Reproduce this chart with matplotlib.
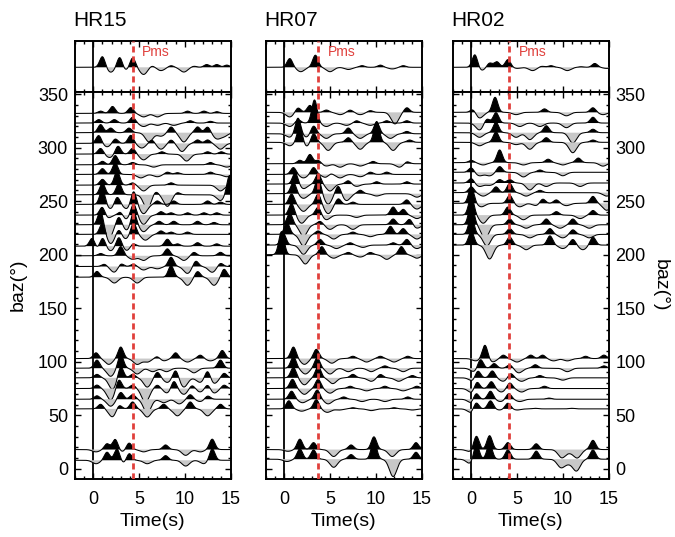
import numpy as np
import matplotlib
matplotlib.use('Agg')
import matplotlib.pyplot as plt
from matplotlib.ticker import MultipleLocator

plt.rcParams['font.family'] = ['Liberation Sans', 'DejaVu Sans']

# receiver functions binned by back azimuth; each trace is a list of
# (time s, amplitude) wavelets, amplitude in plot units
stations = ['HR15', 'HR07', 'HR02']
pms_time = [4.3, 3.7, 4.1]

hr15_stack = [(1.0, 10), (1.9, -4.5), (2.9, 10), (3.5, -3), (4.3, 9), (5.5, -6.5), (6.4, 1.5),
              (7.4, -3), (8.5, 1.5), (9.9, -4.3), (11.0, 1), (12.4, 2.5), (13.5, 2.5), (14.6, 2)]
hr15_baz = [332, 323, 314, 304, 294, 284, 275, 265, 256, 247, 237, 228, 219, 208, 199, 189, 179,
            103, 94, 85, 75, 65, 56, 18, 8]
hr15_rf = [
    [(0.8, 2), (2.1, 6), (4.1, 5), (5.5, -3), (7.0, -3), (10.3, 2), (12.1, 2), (13.5, 1.5)],
    [(0.6, 3), (2.3, 3), (4.3, 5), (5.5, -3), (7.0, -2), (8.8, -2), (10.6, 2), (12.8, 1.5)],
    [(0.8, 7), (1.9, 4), (3.9, 4), (6.1, -8), (7.4, -3), (8.5, 5), (9.9, -8), (11.4, 5), (12.5, 5),
     (13.5, -5), (14.3, -3)],
    [(0.6, 7), (1.5, -3), (2.4, 4), (4.1, 7), (5.3, -4), (6.4, 3), (7.4, -5), (8.5, 3), (9.7, -7),
     (11.4, 3), (12.5, 3), (13.9, -5)],
    [(0.8, 5), (1.8, -3), (2.7, 7), (4.3, 5), (5.5, -5), (7.5, 2), (10.2, -6), (12.5, 2), (14.0, 2)],
    [(1.0, 3), (2.4, 8), (4.3, 2), (6.6, -2), (12.8, 2), (14.6, -2)],
    [(1.0, 5), (2.4, 10), (5.2, -3), (7.0, -2), (8.1, 2), (9.2, 1.5), (12.8, 2), (14.6, -2)],
    [(1.0, 5), (2.6, 12), (4.3, 2), (5.5, -5), (8.5, 2), (13.9, -5)],
    [(1.0, 10), (2.8, 10), (5.9, -12), (6.8, 3), (8.1, -10), (9.2, 2), (13.9, -5), (14.9, 17)],
    [(1.0, 13), (1.9, -4), (2.6, 7), (3.7, -4), (4.4, 12), (5.5, -8), (7.0, 3), (8.8, 3), (12.5, 3),
     (13.9, 2)],
    [(1.0, 8), (1.5, -3), (3.0, 4), (3.5, -4), (4.4, 10), (5.5, -8), (7.4, 3), (8.5, 2), (10.3, 2),
     (12.1, 2), (13.5, 2)],
    [(0.8, 13), (1.7, -12), (2.8, 7), (3.7, -5), (4.4, 12), (5.5, -6), (7.2, 3), (8.8, 3), (11.4, 3),
     (13.2, 2)],
    [(1.0, 10), (1.9, -8), (2.8, 5), (3.5, -4), (4.4, 10), (5.7, -5), (7.4, 3), (8.5, 2), (10.3, 2)],
    [(-0.1, 8), (0.4, -3), (1.0, 8), (1.9, -4), (2.8, 8), (3.7, -4), (4.3, 3), (8.1, 6), (9.2, 2),
     (11.4, 3), (13.5, 2)],
    [(0.8, 2), (3.0, 8), (4.3, -3), (5.5, -4), (8.1, 6), (9.9, -4), (11.0, 3), (13.9, 3)],
    [(1.2, 2), (2.3, -5), (3.0, 3), (4.4, 2), (5.5, -3), (7.0, -2), (8.5, 8), (10.3, -6), (11.2, 5),
     (13.0, -5), (13.9, 3)],
    [(0.4, 5), (2.3, -5), (4.8, -5), (8.5, 10), (10.3, -7), (11.4, 5), (13.2, -7), (14.3, 7)],
    [(0.3, 5), (1.7, -5), (3.0, 10), (4.8, -5), (5.9, -3), (7.0, 2), (7.7, -2), (9.0, 5), (10.3, -3),
     (11.7, 3), (12.8, -2), (14.1, 7)],
    [(0.4, 7), (1.9, -7), (3.0, 12), (4.8, -5), (6.5, -3), (8.0, -3), (11.0, -4), (13.9, 7)],
    [(0.4, 3), (2.1, -10), (3.0, 10), (4.3, 3), (5.9, -8), (7.0, 5), (8.1, -4), (9.0, 7), (9.9, -8),
     (11.7, -4), (12.5, 7), (13.2, -5), (14.3, 4)],
    [(0.4, 3), (1.9, -10), (2.8, 8), (4.3, 3), (5.7, -12), (7.0, 3), (8.1, -4), (8.8, 7), (9.9, -5),
     (10.8, 3), (11.7, -3), (12.5, 4), (13.2, -4), (14.3, 3)],
    [(0.4, 3), (1.9, -6), (3.0, 6), (4.3, 4), (5.9, -12), (7.7, -3), (9.4, -4), (10.6, 4), (11.7, -2),
     (12.5, 3)],
    [(0.8, 4), (2.1, -7), (2.8, 4), (4.3, 6), (5.9, -7), (7.7, 4), (9.2, -6), (10.6, 6), (12.5, -6),
     (13.9, 4)],
    [(0.3, -2), (1.5, 5), (2.4, 9), (3.2, -2), (3.9, 6), (5.5, -2), (7.9, 4), (10.1, -5), (11.7, -2),
     (13.0, 9)],
    [(0.3, -3), (1.5, 7), (2.6, 10), (3.4, -3), (3.9, 7), (5.9, -3), (7.9, 4), (10.1, -5), (12.1, -3),
     (13.0, 10)],
]

hr07_stack = [(0.6, 8), (1.8, -4), (3.4, 11), (5.0, -4), (7.0, -2), (8.5, 1.5), (10.5, 2),
              (11.8, -1.5), (13.0, 1.5)]
hr07_baz = [333, 323, 313, 305, 285, 275, 266, 257, 247, 237, 228, 219, 209, 200,
            103, 94, 85, 75, 65, 56, 18, 9]
hr07_rf = [
    [(0.6, -4), (1.5, 4), (2.8, 6), (4.6, 2), (6.1, -2), (7.2, 2), (8.3, -2), (9.4, 1.5), (12.1, -10),
     (13.4, 4)],
    [(0.6, -3), (1.5, 3), (3.3, 20), (4.6, -3), (6.8, -2), (7.9, 2), (9.4, -2), (11.2, 2), (13.4, 2)],
    [(0.6, -3), (1.5, 14), (2.4, -3), (3.2, 7), (4.6, -4), (7.0, 5), (8.3, -4), (10.1, 10), (11.6, -4),
     (13.4, 2)],
    [(0.6, -3), (1.7, 14), (2.4, -4), (3.2, 8), (4.8, -7), (7.0, 4), (8.3, -6), (10.1, 18), (11.9, -7),
     (13.7, 2)],
    [(1.7, 3), (2.8, 8), (3.7, 3), (4.6, -2), (6.1, -3), (8.3, -2), (9.7, 2), (12.6, -3), (13.4, 2)],
    [(1.0, 6), (2.1, -3), (3.2, 6), (4.6, -3), (5.0, 2), (6.1, -3), (8.3, -2), (9.4, 2), (11.2, 2)],
    [(1.2, 10), (2.1, -4), (3.7, 9), (5.0, -6), (7.0, 3), (7.9, -2), (10.1, 2), (13.4, 2)],
    [(1.0, 10), (2.1, -4), (3.7, 14), (4.8, -9), (5.9, 7), (6.8, -6), (8.3, 3), (10.1, -2), (14.5, -3)],
    [(0.8, 9), (2.1, -6), (3.7, 9), (4.8, -8), (5.9, 5), (7.5, 2), (13.4, 4), (14.5, -4)],
    [(0.8, 10), (1.9, -7), (3.7, 7), (4.6, -4), (7.9, -2), (11.9, 7), (13.0, 5), (14.5, -3)],
    [(0.6, 10), (2.1, -10), (3.9, 3), (5.0, -4), (7.5, -4), (11.9, 5), (13.7, 5), (14.5, -3)],
    [(0.3, 10), (2.1, -10), (3.7, 3), (5.4, -4), (7.5, 2), (9.4, -2), (11.6, 7), (13.0, 5), (14.5, -4)],
    [(-0.1, 10), (2.1, -8), (3.9, 5), (5.7, -3), (7.2, 2), (8.6, -2), (11.9, 2), (13.4, 5), (14.5, -3)],
    [(-0.3, 20), (2.3, -8), (4.1, 7), (5.4, -3), (7.0, 2), (8.3, -2), (9.4, 2), (11.2, -4), (12.8, 7),
     (14.5, -3)],
    [(1.0, 10), (2.2, -5), (3.5, 8), (5.2, -4), (7.5, 2), (9.0, -3), (10.5, 2), (12.0, -3), (13.5, 2)],
    [(1.0, 10), (2.3, -5), (3.6, 9), (5.0, -5), (7.0, -3), (9.5, -3), (11.0, 2), (13.0, -3)],
    [(1.0, 9), (2.2, -6), (3.7, 10), (5.3, -5), (7.5, 3), (9.5, -3), (10.5, 3), (12.5, -3), (14.0, 2)],
    [(0.9, 8), (2.2, -5), (3.7, 8), (5.0, -4), (7.2, 2), (9.0, -2), (11.0, 2), (13.0, -2), (14.5, 2)],
    [(0.8, 7), (2.0, -3), (3.6, 8), (4.8, -4), (6.5, 2), (8.5, -2), (11.0, -2), (13.5, 2)],
    [(0.5, 7), (1.9, -2), (3.5, 8), (4.7, -3), (6.0, -1), (7.5, 1), (9.5, -1.5), (12.0, 1), (14.0, -1)],
    [(0.4, -1.5), (1.7, 9), (3.2, 6), (5.4, -6), (7.3, 4), (9.8, 11), (11.8, -6), (14.4, 6)],
    [(0.3, -2), (1.7, 9), (3.2, 8), (5.4, -7), (7.3, 4), (9.8, 16), (11.9, -15), (14.4, 6)],
]

hr02_stack = [(0.4, 12), (1.1, -3), (2.0, 4), (2.8, 5), (4.0, 7), (5.0, -1), (6.7, -3), (7.7, 1),
              (8.7, 1.5), (10.5, -3), (12.0, 0.5), (13.5, 3.5), (14.8, -1)]
hr02_baz = [333, 323, 314, 305, 286, 277, 267, 258, 248, 237, 228, 219, 209,
            103, 94, 85, 75, 65, 56, 18, 9]
hr02_rf = [
    [(0.2, 3), (0.9, -5), (2.6, 13), (4.9, -2), (8.0, 3), (10.4, -3), (13.3, 4), (14.4, -2)],
    [(0.9, -6), (1.7, 4), (2.7, 9), (5.3, -3), (7.5, -3), (10.4, -4), (13.3, 5)],
    [(0.9, -4), (2.7, 9), (4.9, -4), (6.4, -6), (8.2, 6), (11.1, -9), (13.3, 3)],
    [(0.9, -3), (2.7, 9), (4.9, -2), (6.4, -6), (8.2, 4), (11.1, -9), (13.3, 2)],
    [(0.0, 2), (1.3, -2), (3.1, 11), (5.7, -2), (8.4, 3), (10.0, -2), (11.7, 4), (14.4, -3)],
    [(0.0, 4), (0.9, -3), (2.0, -3), (3.1, 5), (5.7, -4), (7.5, 2), (10.0, -3)],
    [(0.0, 4), (0.9, -3), (2.0, -2), (3.1, 3), (4.2, 3), (6.4, -6), (8.2, -3), (11.9, -3)],
    [(0.0, 5), (1.3, -3), (2.7, 5), (4.2, 8), (6.0, -3), (7.5, 2), (14.8, -3)],
    [(0.0, 14), (1.1, -3), (4.2, 7), (5.3, -3), (7.1, -2), (7.8, 4), (9.3, 3), (10.4, -2), (13.3, 6),
     (14.8, -6)],
    [(0.0, 16), (1.3, -7), (4.0, 7), (5.7, -4), (9.3, 3), (11.9, -3), (13.3, 4)],
    [(0.0, 18), (1.5, -12), (4.2, 5), (6.0, -3), (8.2, 5), (9.7, -3), (11.1, 5), (12.9, -3)],
    [(0.0, 15), (1.7, -10), (4.2, 5), (6.4, -3), (8.6, 5), (10.0, -3), (11.1, 4), (12.9, -3)],
    [(0.0, 12), (2.0, -12), (4.2, 7), (6.0, -4), (8.6, 8), (10.0, -3), (11.1, 5), (12.2, -4), (13.3, 7)],
    [(0.5, -2), (1.5, 12), (2.3, -3), (3.5, 3), (5.0, -3), (6.5, 3), (7.8, 3), (9.0, -2), (10.5, -2),
     (12.5, 2), (14.5, 3)],
    [(0.3, -3), (1.0, 8), (2.5, 4), (4.2, 3), (5.2, -4), (7.0, 3), (10.5, -3), (14.5, 2)],
    [(0.2, -3), (0.7, 7), (2.3, 6), (3.5, -3), (4.3, 4), (5.5, -3), (7.5, 2), (10.0, -2)],
    [(0.1, -4), (0.6, 7), (2.2, 6), (3.3, -3), (4.2, 5), (5.5, -3), (8.0, 2)],
    [(0.1, -4), (0.5, 7), (2.1, 7), (3.2, -2), (4.1, 5), (5.3, -2), (8.5, 1)],
    [(0.05, -4), (0.5, 7), (2.1, 7), (3.1, -1), (4.0, 5), (5.0, -1), (7.0, 0.5), (11.0, 0.5)],
    [(-0.1, -2), (0.55, 12), (2.0, 12), (4.0, 6), (7.1, 5), (9.9, -7), (10.8, -2), (11.6, -7),
     (13.3, 8)],
    [(-0.1, -4), (0.55, 14), (2.0, 13), (4.0, 8), (7.1, 7), (9.8, -7), (10.6, -3), (11.5, -10),
     (13.3, 8)],
]

baz_sets = [hr15_baz, hr07_baz, hr02_baz]
rf_sets = [hr15_rf, hr07_rf, hr02_rf]
stack_sets = [hr15_stack, hr07_stack, hr02_stack]

t = np.linspace(-2, 15, 1701)
gain = 1.08
stack_gain = 1.1
pos_width, neg_width = 0.42, 0.58
neg_color = '#c8c8c8'
red = '#e0403c'


def wavelets(pulses):
    w = np.zeros_like(t)
    for tc, a in pulses:
        s = pos_width if a > 0 else neg_width
        w += a * np.exp(-((t - tc) / s) ** 2)
    return w


def draw_trace(ax, base, w, z):
    y = base + w
    ax.fill_between(t, base, y, where=w >= 0, interpolate=True, color='black', lw=0, zorder=z)
    ax.fill_between(t, base, y, where=w <= 0, interpolate=True, color=neg_color, lw=0, zorder=z)
    ax.plot(t, y, color='black', lw=0.75, zorder=z + 0.005)


def style_axis(ax):
    for sp in ax.spines.values():
        sp.set_linewidth(1.4)
    ax.set_xlim(-2, 15)
    ax.xaxis.set_major_locator(MultipleLocator(5))
    ax.xaxis.set_minor_locator(MultipleLocator(1))
    ax.tick_params(which='both', direction='in', top=True, bottom=True, left=True, right=True,
                   width=1.0, labelsize=13)
    ax.tick_params(which='major', length=4.5)
    ax.tick_params(which='minor', length=2.5)


fig = plt.figure(figsize=(6.75, 5.37), dpi=100)
W, H = 675.0, 537.0
panel_left = [75, 266, 453]
panel_w = 155.5

for i in range(3):
    x0 = panel_left[i] / W
    top = fig.add_axes([x0, 1 - 92 / H, panel_w / W, 51 / H])
    main = fig.add_axes([x0, 1 - 479 / H, panel_w / W, 387 / H])

    # stacked trace
    style_axis(top)
    top.set_ylim(-24.7, 26.3)
    top.set_yticks([])
    top.tick_params(labelbottom=False)
    draw_trace(top, 0.0, stack_gain * wavelets(stack_sets[i]), 3)
    top.axvline(0, color='black', lw=1.3, zorder=1)
    top.axvline(pms_time[i], color=red, lw=2.0, dashes=(2.2, 1.4), zorder=10)
    top.text(pms_time[i] + 1.05, 15.6, 'Pms', color=red, fontsize=10, va='center', ha='left')

    # individual bins, lower back azimuths drawn over higher ones
    style_axis(main)
    main.set_ylim(-9.5, 352)
    main.yaxis.set_major_locator(MultipleLocator(50))
    main.yaxis.set_minor_locator(MultipleLocator(10))
    order = np.argsort(baz_sets[i])[::-1]
    for k, j in enumerate(order):
        draw_trace(main, baz_sets[i][j], gain * wavelets(rf_sets[i][j]), 2 + k * 0.01)
    main.axvline(0, color='black', lw=1.3, zorder=1)
    main.axvline(pms_time[i], color=red, lw=2.0, dashes=(2.2, 1.4), zorder=10)
    main.tick_params(axis='x', pad=9)
    main.tick_params(axis='y', pad=5)
    main.set_xlabel('Time(s)', fontsize=14, labelpad=3)
    if i == 0:
        main.tick_params(labelleft=True, labelright=False)
    elif i == 1:
        main.tick_params(labelleft=False, labelright=False)
    else:
        main.tick_params(labelleft=False, labelright=True)

    fig.text(x0 - 2 / W, 1 - 20 / H, stations[i], fontsize=15, ha='left', va='center')

fig.text(18 / W, 1 - 285 / H, 'baz(°)', fontsize=14, rotation=90, ha='center', va='center')
fig.text(660 / W, 1 - 285 / H, 'baz(°)', fontsize=14, rotation=270, ha='center', va='center')

fig.savefig('out.png', dpi=100)
